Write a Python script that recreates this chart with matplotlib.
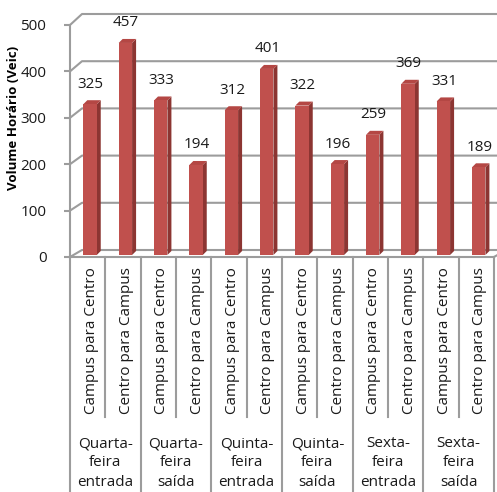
import matplotlib.pyplot as plt
from matplotlib.patches import Polygon, Rectangle

plt.rcParams['font.family'] = ['Open Sans', 'DejaVu Sans']

grupos = ["Quarta-\nfeira\nentrada", "Quarta-\nfeira\nsaída",
          "Quinta-\nfeira\nentrada", "Quinta-\nfeira\nsaída",
          "Sexta-\nfeira\nentrada", "Sexta-\nfeira\nsaída"]
sentidos = ["Campus para Centro", "Centro para Campus"]
volumes = [325, 457, 333, 194, 312, 401, 322, 196, 259, 369, 331, 189]
yticks = [0, 100, 200, 300, 400, 500]

W, H = 497, 492
fig = plt.figure(figsize=(W / 100, H / 100), dpi=100)
ax = fig.add_axes([70 / W, 235 / H, 424 / W, 232 / H])
n = len(volumes)
ax.set_xlim(0, n)
ax.set_ylim(0, 500)
ax.patch.set_visible(False)

# pixel sizes -> data units
sx = 424 / n
sy = 232 / 500


def px_x(p):
    return p / sx


def px_y(p):
    return p / sy


grid = "#9c9c9c"
front, side, top = "#c0504d", "#8c3532", "#b44744"
ink = "#1a1a1a"
fs = 11

# back wall + left wall gridlines (3D look)
for g in yticks:
    yb = px_y(7) + g * 236 / 232
    ax.plot([0, px_x(12), n + 1], [g, yb, yb], color=grid, lw=1.5,
            clip_on=False, zorder=1)
ax.plot([n, n + px_x(12)], [0, px_y(7)], color=grid, lw=1.5,
        clip_on=False, zorder=1)

# 3D columns
base = px_y(2)
ddx, ddy = px_x(4), px_y(4)
bw = 0.38
for i, v in enumerate(volumes):
    x0 = i + 0.377
    x1 = x0 + bw
    t = base + v
    ax.add_patch(Polygon([(x1, base), (x1, t), (x1 + ddx, t + ddy),
                          (x1 + ddx, base + ddy)], closed=True,
                         facecolor=side, edgecolor="none", zorder=3))
    ax.add_patch(Polygon([(x0, t), (x1, t), (x1 + ddx, t + ddy),
                          (x0 + ddx, t + ddy)], closed=True,
                         facecolor=top, edgecolor="none", zorder=3))
    ax.add_patch(Rectangle((x0, base), bw, v, facecolor=front,
                           edgecolor="none", zorder=4))
    ax.text(i + 0.59, t + px_y(20), str(v), ha="center", va="center",
            fontsize=fs, color=ink, zorder=5)

# category axis: separators and two-level labels
for k in range(n + 1):
    fim = -px_y(240) if k % 2 == 0 else -px_y(160)
    ax.plot([k, k], [0, fim], color=grid, lw=1.5, clip_on=False, zorder=1)
for i in range(n):
    ax.text(i + 0.6, -px_y(10), sentidos[i % 2], rotation=90,
            ha="center", va="top", fontsize=fs, color=ink)
for j, g in enumerate(grupos):
    ax.text(2 * j + 1, -px_y(206), g, ha="center", va="center",
            fontsize=fs, linespacing=1.38, color=ink)

ax.set_xticks([])
ax.set_yticks(yticks)
ax.tick_params(axis="y", length=4, width=1.5, color=grid, pad=13,
               labelsize=fs, labelcolor=ink)
for s in ["top", "right"]:
    ax.spines[s].set_visible(False)
for s in ["left", "bottom"]:
    ax.spines[s].set_color(grid)
    ax.spines[s].set_linewidth(1.5)

fig.text(14 / W, 1 - 118 / H, "Volume Horário (Veic)", rotation=90,
         ha="center", va="center", fontsize=9.5, fontweight="bold")

fig.savefig("out.png", dpi=100)
